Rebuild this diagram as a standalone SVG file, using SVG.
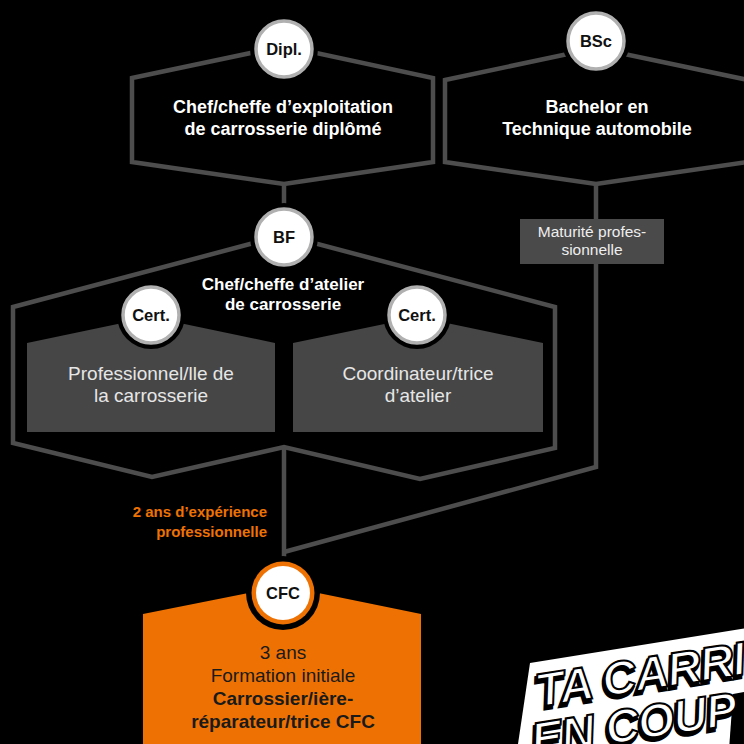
<svg xmlns="http://www.w3.org/2000/svg" width="744" height="744" viewBox="0 0 744 744">
<defs>
<style>
.hex{fill:#000;stroke:#4d4d4d;stroke-width:4.5;stroke-linejoin:miter}
.conn{fill:none;stroke:#4d4d4d;stroke-width:4.5}
.gbox{fill:#464646}
.ring{fill:#000}
.badge{fill:#fff;stroke:#b0b0b0;stroke-width:3.5}
.btxt{font-family:"Liberation Sans",Arial,sans-serif;font-weight:bold;font-size:16.5px;fill:#111;text-anchor:middle}
.title{font-family:"Liberation Sans",Arial,sans-serif;font-weight:bold;font-size:18px;fill:#fff;text-anchor:middle}
.light{font-family:"Liberation Sans",Arial,sans-serif;font-size:19px;fill:#e6e6e6;text-anchor:middle}
.small{font-family:"Liberation Sans",Arial,sans-serif;font-size:15.5px;fill:#eee;text-anchor:middle}
.orange{font-family:"Liberation Sans",Arial,sans-serif;font-weight:bold;font-size:15px;fill:#ee7203;text-anchor:end}
.cfcl{font-family:"Liberation Sans",Arial,sans-serif;font-size:19px;fill:#1a1a1a;text-anchor:middle}
.cfcb{font-family:"Liberation Sans",Arial,sans-serif;font-weight:bold;font-size:19px;fill:#1a1a1a;text-anchor:middle}
.slog{font-family:"Liberation Sans",Arial,sans-serif;font-weight:900;font-style:italic;font-size:47px;letter-spacing:-1px}
</style>
</defs>
<rect width="744" height="744" fill="#000"/>

<g id="connectors">
<line class="conn" x1="284" y1="184" x2="284" y2="215"/>
<polyline class="conn" points="596,184 596,467 284,552"/>
<line class="conn" x1="284" y1="447" x2="284" y2="565"/>
</g>

<g id="node-dipl">
<polygon class="hex" points="132,78 284,46 433,78 433,162 284,184 132,162"/>
<circle class="ring" cx="284" cy="49" r="34"/>
<circle class="badge" cx="284" cy="49" r="28"/>
<text class="btxt" x="284" y="55">Dipl.</text>
<text class="title" x="283" y="113">Chef/cheffe d’exploitation</text>
<text class="title" x="283" y="135">de carrosserie diplômé</text>
</g>

<g id="node-bsc">
<polygon class="hex" points="445,80 596,48 748,80 748,162 596,184 445,162"/>
<circle class="ring" cx="596" cy="41" r="34"/>
<circle class="badge" cx="596" cy="41" r="28"/>
<text class="btxt" x="596" y="47">BSc</text>
<text class="title" x="597" y="113">Bachelor en</text>
<text class="title" x="597" y="135">Technique automobile</text>
</g>

<g id="node-maturite">
<rect x="520" y="219" width="144" height="45" fill="#4a4a4a"/>
<text class="small" x="592" y="237">Maturité profes-</text>
<text class="small" x="592" y="255">sionnelle</text>
</g>

<g id="node-bf">
<polygon class="hex" points="13,307 284,235 555,307 555,448 420,479 284,447 152,477 13,443"/>
<circle class="ring" cx="284" cy="237" r="34"/>
<circle class="badge" cx="284" cy="237" r="28"/>
<text class="btxt" x="284" y="243">BF</text>
<text class="title" x="283" y="290" style="font-size:17px">Chef/cheffe d’atelier</text>
<text class="title" x="283" y="310" style="font-size:17px">de carrosserie</text>
</g>

<g id="node-professionnel">
<polygon class="gbox" points="27,343 151,317 275,343 275,432 27,432"/>
<circle class="ring" cx="151" cy="315" r="34"/>
<circle class="badge" cx="151" cy="315" r="28"/>
<text class="btxt" x="151" y="321">Cert.</text>
<text class="light" x="151" y="380">Professionnel/lle de</text>
<text class="light" x="151" y="402">la carrosserie</text>
</g>

<g id="node-coordinateur">
<polygon class="gbox" points="293,343 418,317 543,343 543,432 293,432"/>
<circle class="ring" cx="417" cy="315" r="34"/>
<circle class="badge" cx="417" cy="315" r="28"/>
<text class="btxt" x="417" y="321">Cert.</text>
<text class="light" x="418" y="380">Coordinateur/trice</text>
<text class="light" x="418" y="402">d’atelier</text>
</g>

<g id="label-experience">
<text class="orange" x="267" y="517">2 ans d’expérience</text>
<text class="orange" x="267" y="537">professionnelle</text>
</g>

<g id="node-cfc">
<polygon points="143,614 284,586 421,614 421,744 143,744" fill="#ee7203"/>
<circle class="ring" cx="283" cy="593" r="37"/>
<circle cx="283" cy="593" r="31.5" fill="#ee7203"/>
<circle cx="283" cy="593" r="27" fill="#fff"/>
<text class="btxt" x="283" y="599">CFC</text>
<text class="cfcl" x="283" y="659">3 ans</text>
<text class="cfcl" x="283" y="682">Formation initiale</text>
<text class="cfcb" x="283" y="705">Carrossier/ière-</text>
<text class="cfcb" x="283" y="728">réparateur/trice CFC</text>
</g>

<g id="slogan">
<polygon points="530,663 760,626 760,744 518,744" fill="#fff"/>
<polygon points="733,694 750,691 750,750 729,750" fill="#000"/>
<g transform="translate(538,707) rotate(-9)">
<text class="slog" x="-2" y="3" fill="#000" stroke="#000" stroke-width="3">TA CARRIÈ</text>
<text class="slog" x="0" y="0" fill="#fff" stroke="#000" stroke-width="2">TA CARRIÈ</text>
<text class="slog" x="-14" y="51" fill="#000" stroke="#000" stroke-width="3">EN COUP</text>
<text class="slog" x="-12" y="48" fill="#fff" stroke="#000" stroke-width="2">EN COUP</text>
</g>
</g>
</svg>
